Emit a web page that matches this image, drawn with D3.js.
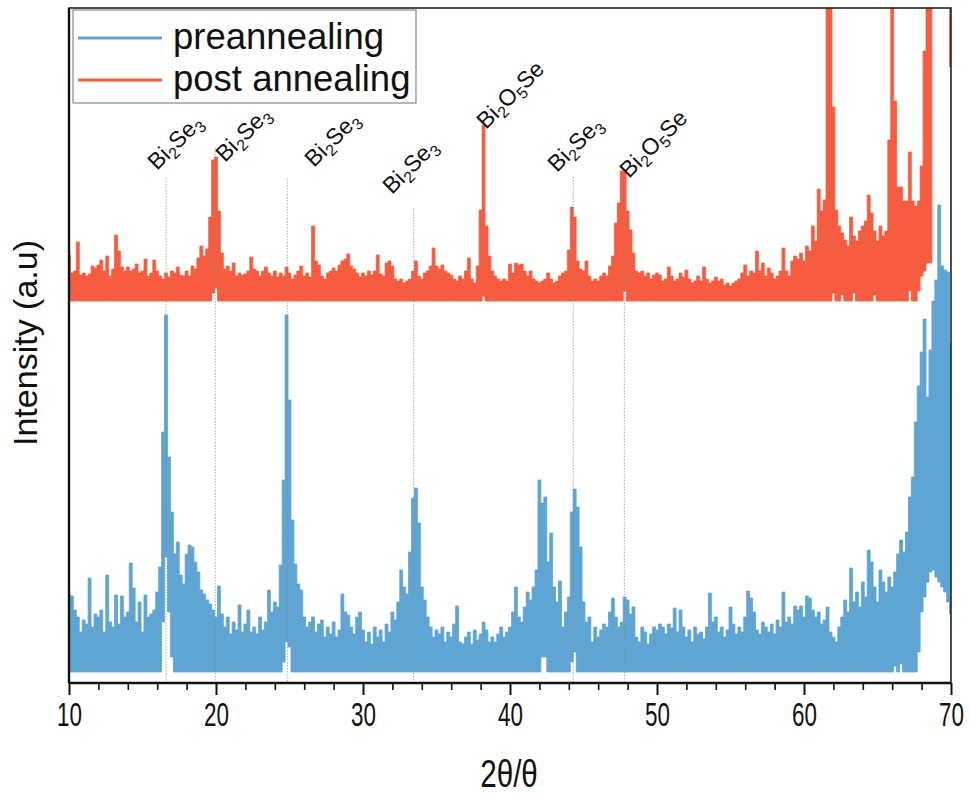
<!DOCTYPE html>
<html>
<head>
<meta charset="utf-8">
<script src="https://cdn.jsdelivr.net/npm/d3@7"></script>
<style>
  body { margin: 0; background: #fff; }
  svg { display: block; }
</style>
</head>
<body>
<div id="chart"></div>
<script>
// --- Data ---
// 2theta grid: 10 -> 70, step 0.2
const xStart = 10;
const xStep = 0.2;

// upper envelope of the noisy scans (a.u., relative to each scan's baseline)
const preValues = [
  77, 76, 62, 55, 40, 52, 48, 94, 45, 58,
  55, 62, 40, 97, 50, 45, 77, 48, 76, 55,
  60, 109, 84, 50, 70, 40, 77, 55, 58, 62,
  80, 105, 240, 357, 215, 160, 118, 130, 97, 88,
  118, 127, 125, 110, 100, 82, 78, 72, 68, 62,
  55, 86, 58, 45, 55, 38, 50, 42, 67, 40,
  48, 62, 40, 45, 38, 55, 42, 50, 82, 60,
  70, 65, 107, 192, 357, 272, 152, 108, 88, 82,
  55, 45, 50, 55, 40, 48, 52, 35, 45, 38,
  50, 35, 42, 78, 60, 57, 45, 38, 55, 60,
  42, 30, 40, 28, 45, 35, 42, 30, 48, 40,
  60, 52, 70, 102, 85, 78, 120, 174, 184, 149,
  85, 72, 55, 45, 35, 42, 38, 45, 30, 40,
  35, 48, 66, 30, 28, 35, 40, 28, 42, 32,
  38, 50, 42, 30, 35, 30, 38, 45, 35, 40,
  45, 60, 85, 55, 50, 65, 80, 72, 85, 102,
  192, 169, 175, 110, 139, 85, 70, 91, 45, 60,
  75, 160, 183, 165, 125, 70, 50, 55, 30, 45,
  35, 42, 48, 45, 60, 74, 55, 45, 50, 75,
  72, 58, 65, 35, 30, 45, 40, 28, 38, 45,
  42, 48, 45, 38, 48, 44, 64, 40, 62, 45,
  35, 42, 30, 45, 38, 40, 33, 45, 79, 50,
  55, 40, 45, 35, 42, 65, 48, 38, 45, 40,
  55, 81, 74, 60, 42, 38, 50, 45, 40, 48,
  38, 52, 45, 80, 50, 55, 48, 66, 62, 66,
  55, 76, 74, 62, 55, 60, 48, 52, 65, 40,
  35, 30, 45, 55, 72, 60, 104, 70, 80, 65,
  90, 75, 122, 110, 85, 70, 102, 90, 80, 95,
  85, 100, 118, 132, 120, 140, 175, 195, 250, 286,
  320, 353, 275, 322, 371, 392, 467, 406, 402, 400,
  329
];

const postValues = [
  46, 28, 30, 59, 26, 28, 25, 27, 35, 33,
  36, 41, 30, 45, 25, 32, 66, 50, 34, 30,
  34, 30, 32, 37, 28, 30, 42, 25, 28, 41,
  30, 25, 22, 28, 24, 30, 28, 34, 26, 25,
  30, 25, 35, 32, 43, 55, 45, 52, 84, 141,
  144, 90, 48, 32, 35, 30, 38, 25, 28, 26,
  27, 30, 44, 32, 30, 25, 30, 34, 28, 25,
  30, 24, 28, 25, 34, 28, 22, 26, 30, 35,
  25, 28, 24, 75, 40, 36, 25, 22, 28, 30,
  33, 30, 36, 40, 42, 47, 35, 32, 28, 24,
  28, 25, 30, 26, 30, 46, 27, 25, 38, 40,
  35, 22, 20, 22, 18, 20, 22, 30, 40, 25,
  22, 28, 30, 35, 53, 35, 32, 36, 30, 28,
  26, 22, 20, 25, 22, 30, 43, 22, 18, 35,
  91, 176, 75, 45, 30, 25, 22, 20, 22, 20,
  37, 28, 38, 36, 37, 30, 25, 30, 22, 20,
  18, 20, 22, 28, 22, 18, 20, 25, 28, 30,
  51, 94, 84, 40, 32, 30, 40, 25, 20, 22,
  20, 25, 28, 25, 35, 45, 78, 98, 130, 130,
  90, 71, 48, 30, 28, 30, 25, 28, 22, 26,
  28, 26, 20, 22, 34, 25, 20, 22, 28, 24,
  31, 22, 18, 20, 25, 20, 34, 22, 18, 20,
  24, 20, 22, 16, 18, 15, 18, 20, 22, 28,
  36, 25, 30, 28, 50, 30, 38, 25, 33, 28,
  22, 25, 30, 53, 30, 25, 40, 45, 42, 48,
  40, 55, 50, 75, 60, 112, 90, 101, 400, 400,
  194, 91, 75, 68, 61, 55, 84, 65, 60, 70,
  75, 80, 106, 88, 70, 60, 75, 65, 70, 161,
  400, 200, 114, 114, 100, 100, 149, 100, 95, 100,
  135, 250, 400, 400, 400, 400, 400, 400, 400, 400,
  400
];

// lower envelope where it lifts off the baseline: [2theta, value]
const preLow = [
  [16.4, 50], [16.6, 115], [16.8, 60], [17.0, 15],
  [24.6, 10], [24.8, 30], [25.0, 25],
  [42.2, 15], [42.4, 15], [44.2, 10], [44.4, 20],
  [66.2, 6], [66.6, 8], [67.8, 20], [68.0, 60], [68.2, 75], [68.4, 90],
  [68.6, 100], [68.8, 102], [69.0, 95], [69.2, 90], [69.4, 85],
  [69.6, 80], [69.8, 70], [70.0, 58]
];
const postLow = [
  [19.8, 8], [20.0, 13], [38.2, 5], [47.8, 10],
  [62.0, 8], [62.6, 6], [63.4, 8], [64.8, 6], [67.2, 10],
  [67.8, 10], [68.0, 25], [68.2, 30], [68.4, 38], [68.6, 38],
  [68.8, 400], [69.0, 400], [69.2, 400], [69.4, 400], [69.6, 400],
  [69.8, 400], [70.0, 234]
];

// vertical offsets of the two stacked scans
const preOffset = 11;
const postOffset = 382;

// phase markers: position, top of dotted line, label anchor
const markPos   = [16.6, 19.95, 24.85, 33.45, 38.15, 44.3, 47.78];
const markTop   = [505, 535, 504, 475, null, 506, 503];
const markPhase = ["Bi2Se3", "Bi2Se3", "Bi2Se3", "Bi2Se3", "Bi2O5Se", "Bi2Se3", "Bi2O5Se"];
const labelX    = [15.99, 20.61, 26.67, 31.97, 38.37, 43.20, 48.10];
const labelY    = [512, 520, 515, 488, 553, 510, 504];

const xTicks = [10, 20, 30, 40, 50, 60, 70];
const xMinorTicks = [12, 14, 16, 18, 22, 24, 26, 28, 32, 34, 36, 38, 42, 44, 46, 48,
                     52, 54, 56, 58, 62, 64, 66, 68];

const seriesNames = ["preannealing", "post annealing"];
const colors = { pre: "#5fa5d3", post: "#f65d40" };

// --- Layout ---
const W = 970, H = 794;
const margin = { top: 8, right: 19, bottom: 111, left: 69 };
const width = W - margin.left - margin.right;
const height = H - margin.top - margin.bottom;
const FONT = "'Liberation Sans', Arial, Helvetica, sans-serif";

const svg = d3.select("#chart").append("svg")
  .attr("width", W).attr("height", H);

const g = svg.append("g")
  .attr("transform", `translate(${margin.left},${margin.top})`);

const x = d3.scaleLinear().domain([10, 70]).range([0, width]);
const y = d3.scaleLinear().domain([0, 675]).range([height, 0]);

g.append("clipPath").attr("id", "plotClip")
  .append("rect").attr("width", width).attr("height", height);

function buildSeries(values, lows, offset) {
  const low = values.map(() => 0);
  lows.forEach(([t, v]) => { low[Math.round((t - xStart) / xStep)] = v; });
  return values.map((v, i) => ({
    t: xStart + i * xStep,
    hi: offset + v,
    lo: offset + low[i]
  }));
}

const preData = buildSeries(preValues, preLow, preOffset);
const postData = buildSeries(postValues, postLow, postOffset);

const area = d3.area()
  .curve(d3.curveStep)
  .x(d => x(d.t))
  .y0(d => y(d.lo))
  .y1(d => y(d.hi));

const plot = g.append("g").attr("clip-path", "url(#plotClip)");

plot.append("path").datum(postData)
  .attr("d", area)
  .attr("fill", colors.post)
  .attr("stroke", colors.post)
  .attr("stroke-width", 0.8);

plot.append("path").datum(preData)
  .attr("d", area)
  .attr("fill", colors.pre)
  .attr("stroke", colors.pre)
  .attr("stroke-width", 0.8);

// dotted reference lines
markPos.forEach((p, i) => {
  if (markTop[i] === null) return;
  g.append("line")
    .attr("x1", x(p)).attr("x2", x(p))
    .attr("y1", y(markTop[i])).attr("y2", height)
    .attr("stroke", "#888")
    .attr("stroke-width", 0.7)
    .attr("stroke-dasharray", "1.5,1.5");
});

// phase labels with subscripts
function addPhaseLabel(i) {
  const t = g.append("text")
    .attr("transform", `translate(${x(labelX[i])},${y(labelY[i])}) rotate(-45)`)
    .style("font-family", FONT)
    .attr("font-size", 23)
    .attr("fill", "#111");
  const parts = markPhase[i].match(/[A-Za-z]+|\d+/g);
  let sub = false;
  parts.forEach(s => {
    const isNum = /^\d+$/.test(s);
    const ts = t.append("tspan").text(s);
    if (isNum) {
      ts.attr("font-size", 16).attr("dy", sub ? 0 : 5);
      sub = true;
    } else if (sub) {
      ts.attr("dy", -5);
      sub = false;
    }
  });
}
markPos.forEach((p, i) => addPhaseLabel(i));

// --- Axes ---
const xAxis = g.append("g")
  .attr("transform", `translate(0,${height})`)
  .call(d3.axisBottom(x).tickValues(xTicks).tickSize(12).tickPadding(8)
    .tickFormat(d3.format("d")));
xAxis.select(".domain").remove();
xAxis.selectAll(".tick line").attr("stroke", "#111").attr("stroke-width", 2);
xAxis.selectAll(".tick text")
  .style("font-family", FONT)
  .attr("font-size", 33)
  .attr("transform", "scale(0.68,1)")
  .attr("fill", "#111");

const xMinor = g.append("g")
  .attr("transform", `translate(0,${height})`)
  .call(d3.axisBottom(x).tickValues(xMinorTicks).tickSize(7).tickFormat(""));
xMinor.select(".domain").remove();
xMinor.selectAll(".tick line").attr("stroke", "#111").attr("stroke-width", 1.6);

// frame
g.append("rect")
  .attr("width", width).attr("height", height)
  .attr("fill", "none").attr("stroke", "#222").attr("stroke-width", 1.6);
g.append("line").attr("x1", 0).attr("x2", 0).attr("y1", 0).attr("y2", height)
  .attr("stroke", "#111").attr("stroke-width", 2.4);
g.append("line").attr("x1", 0).attr("x2", width).attr("y1", height).attr("y2", height)
  .attr("stroke", "#111").attr("stroke-width", 2.4);

// axis titles
svg.append("text")
  .attr("transform", `translate(${margin.left + width / 2 - 1},787) scale(0.78,1)`)
  .attr("text-anchor", "middle")
  .style("font-family", FONT)
  .attr("font-size", 38)
  .attr("fill", "#111")
  .text("2θ/θ");

svg.append("text")
  .attr("transform", `translate(37,${margin.top + 335}) rotate(-90)`)
  .attr("text-anchor", "middle")
  .style("font-family", FONT)
  .attr("font-size", 34)
  .attr("fill", "#111")
  .text("Intensity (a.u)");

// --- Legend ---
const legend = g.append("g").attr("transform", "translate(4,2)");
legend.append("rect")
  .attr("width", 343).attr("height", 93)
  .attr("fill", "#fff").attr("stroke", "#888").attr("stroke-width", 1.2);

[colors.pre, colors.post].forEach((c, i) => {
  const row = legend.append("g").attr("transform", `translate(0,${28 + i * 42})`);
  row.append("line")
    .attr("x1", 5).attr("x2", 89)
    .attr("stroke", c).attr("stroke-width", 3);
  row.append("text")
    .attr("x", 100).attr("y", 11)
    .style("font-family", FONT)
    .attr("font-size", 36.5)
    .attr("fill", "#111")
    .text(seriesNames[i]);
});
</script>
</body>
</html>
